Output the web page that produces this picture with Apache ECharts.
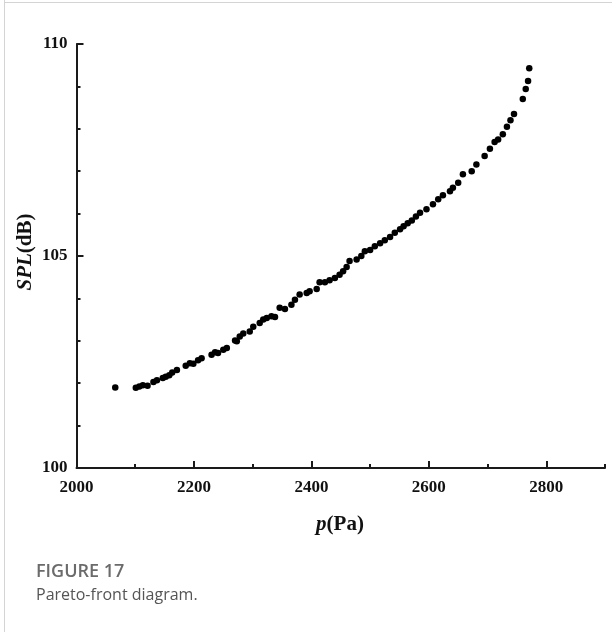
<!DOCTYPE html>
<html>
<head>
<meta charset="utf-8">
<script src="https://cdn.jsdelivr.net/npm/echarts@6/dist/echarts.min.js"></script>
<style>
html,body{margin:0;padding:0;background:#fff;}
#chart{width:612px;height:632px;}
</style>
</head>
<body>
<div id="chart"></div>
<script>
// Pressure p (Pa)
var pValues = [2066,2101,2107,2113,2121,2131,2137,2147,2152,2158,2163,2171,2186,2193,2199,2207,2213,2230,2236,2241,2250,2256,2270,2273,2278,2284,2295,2301,2312,2318,2324,2332,2338,2346,2355,2366,2372,2380,2392,2397,2409,2414,2423,2431,2440,2448,2454,2460,2465,2477,2485,2491,2500,2508,2517,2525,2534,2542,2551,2557,2564,2571,2578,2585,2596,2607,2616,2624,2636,2641,2650,2658,2673,2681,2695,2704,2712,2718,2726,2733,2739,2745,2760,2765,2769,2771];
// Sound pressure level SPL (dB)
var splValues = [101.90,101.89,101.92,101.95,101.94,102.03,102.07,102.12,102.15,102.19,102.25,102.31,102.41,102.47,102.46,102.54,102.59,102.67,102.73,102.71,102.79,102.83,103.01,102.99,103.10,103.17,103.22,103.33,103.42,103.50,103.54,103.58,103.56,103.78,103.75,103.85,103.97,104.09,104.13,104.17,104.22,104.38,104.38,104.43,104.48,104.56,104.64,104.74,104.88,104.92,105.00,105.11,105.14,105.23,105.30,105.37,105.45,105.55,105.63,105.70,105.77,105.84,105.93,106.02,106.10,106.22,106.34,106.43,106.53,106.61,106.73,106.93,107.00,107.16,107.36,107.53,107.69,107.75,107.87,108.05,108.20,108.35,108.70,108.94,109.13,109.43];
var xTickLabels = [2000,2200,2400,2600,2800];
var xMinorTicks = [2100,2300,2500,2700,2900];
var yTickLabels = [100,105,110];

var points = pValues.map(function(p,i){return [p, splValues[i]];});
var serif = '"Liberation Serif","Times New Roman",serif';
var sans = '"Open Sans","Noto Sans",sans-serif';
var axisCol = '#1a1a1a';
var plain = function(v){ return String(v); };

var chart = echarts.init(document.getElementById('chart'), null, {renderer:'canvas'});
chart.setOption({
  backgroundColor:'#fff',
  animation:false,
  grid:{left:76.5, right:7, top:44, bottom:164, outerBoundsMode:'none', containLabel:false},
  xAxis:[{
    type:'value', min:2000, max:2900, interval:100,
    axisLine:{show:true, onZero:false, lineStyle:{color:axisCol, width:2}},
    axisTick:{show:true, inside:true, length:7, customValues:xTickLabels, lineStyle:{color:axisCol, width:2}},
    axisLabel:{show:true, customValues:xTickLabels, formatter:plain, margin:11, fontFamily:serif, fontWeight:'bold', fontSize:17, color:'#111'},
    splitLine:{show:false}
  },{
    type:'value', min:2000, max:2900, interval:100, position:'bottom',
    axisLine:{show:false},
    axisTick:{show:true, inside:true, length:4, customValues:xMinorTicks, lineStyle:{color:axisCol, width:2}},
    axisLabel:{show:false},
    splitLine:{show:false}
  }],
  yAxis:{
    type:'value', min:100, max:110, interval:5,
    axisLine:{show:true, onZero:false, lineStyle:{color:axisCol, width:2}},
    axisTick:{show:true, inside:true, length:7, lineStyle:{color:axisCol, width:2}},
    minorTick:{show:true, splitNumber:5, length:4, lineStyle:{color:axisCol, width:2}},
    axisLabel:{show:true, customValues:yTickLabels, formatter:plain, margin:9, fontFamily:serif, fontWeight:'bold', fontSize:17, color:'#111'},
    splitLine:{show:false}
  },
  series:[{
    type:'scatter', xAxisIndex:0, yAxisIndex:0,
    data:points, symbol:'circle', symbolSize:6.5,
    itemStyle:{color:'#000', opacity:1}
  }],
  graphic:[
    {type:'line', shape:{x1:4.5,y1:0,x2:4.5,y2:632}, style:{stroke:'#d4d4d4', lineWidth:1}},
    {type:'line', shape:{x1:4,y1:2.5,x2:612,y2:2.5}, style:{stroke:'#d4d4d4', lineWidth:1}},
    {type:'text', x:340, y:525, style:{
      text:'{i|p}{b|(Pa)}', align:'center', verticalAlign:'middle',
      rich:{
        i:{fontFamily:serif, fontStyle:'italic', fontWeight:'bold', fontSize:21, fill:'#111'},
        b:{fontFamily:serif, fontWeight:'bold', fontSize:21, fill:'#111'}
      }}},
    {type:'text', x:26, y:252, rotation:Math.PI/2, style:{
      text:'{i|SPL}{b|(dB)}', align:'center', verticalAlign:'middle',
      rich:{
        i:{fontFamily:serif, fontStyle:'italic', fontWeight:'bold', fontSize:21, fill:'#111'},
        b:{fontFamily:serif, fontWeight:'bold', fontSize:21, fill:'#111'}
      }}},
    {type:'text', x:36, y:572, style:{text:'FIGURE 17', fontFamily:sans, fontWeight:600, fontSize:18, fill:'#6b6b6b', align:'left', verticalAlign:'middle'}},
    {type:'text', x:36, y:595, style:{text:'Pareto-front diagram.', fontFamily:sans, fontWeight:'normal', fontSize:16, fill:'#555', align:'left', verticalAlign:'middle'}}
  ]
});
</script>
</body>
</html>
